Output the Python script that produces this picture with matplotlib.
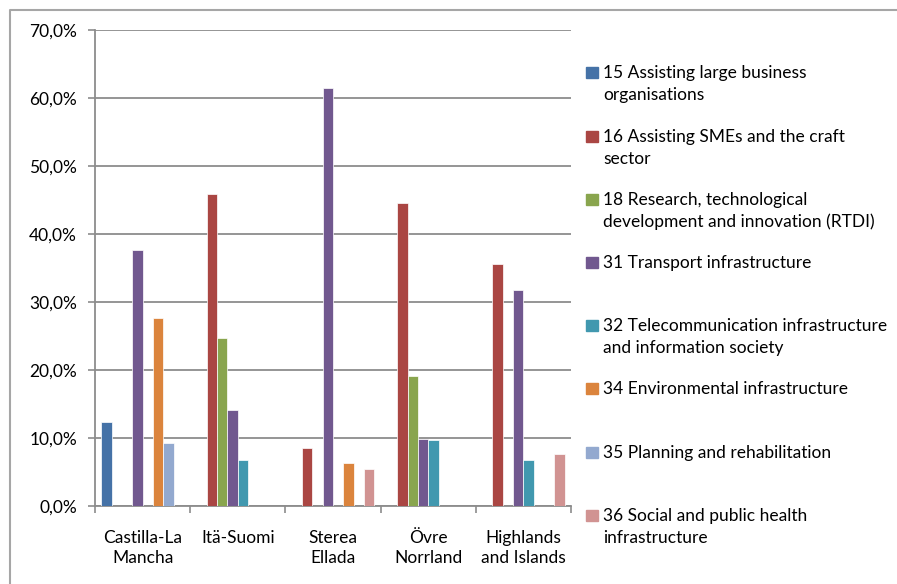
"""
Grouped bar chart: share of structural fund expenditure by priority theme
"""
import matplotlib.pyplot as plt
from matplotlib.lines import Line2D
from matplotlib.patches import Rectangle
from matplotlib.ticker import FuncFormatter
import numpy as np

plt.rcParams['font.family'] = ['Lato', 'DejaVu Sans']

regions = ['Castilla-La\nMancha', 'Itä-Suomi', 'Sterea\nEllada', 'Övre\nNorrland', 'Highlands\nand Islands']

themes = [
    '15 Assisting large business\norganisations',
    '16 Assisting SMEs and the craft\nsector',
    '18 Research, technological\ndevelopment and innovation (RTDI)',
    '31 Transport infrastructure',
    '32 Telecommunication infrastructure\nand information society',
    '34 Environmental infrastructure',
    '35 Planning and rehabilitation',
    '36 Social and public health\ninfrastructure',
]

# values in percent, one list per theme (order of regions)
v15 = [12.3, 0.0, 0.0, 0.0, 0.0]
v16 = [0.0, 45.9, 8.6, 44.6, 35.6]
v18 = [0.0, 24.7, 0.0, 19.1, 0.0]
v31 = [37.7, 14.1, 61.4, 9.9, 31.8]
v32 = [0.0, 6.7, 0.0, 9.7, 6.7]
v34 = [27.7, 0.0, 6.3, 0.0, 0.0]
v35 = [9.2, 0.0, 0.0, 0.0, 0.0]
v36 = [0.0, 0.0, 5.5, 0.0, 7.6]
series = [v15, v16, v18, v31, v32, v34, v35, v36]

colors = ['#4572A7', '#AA4643', '#89A54E', '#71588F',
          '#4198AF', '#DB843D', '#93A9CF', '#D19392']

W, H = 897, 584
fig = plt.figure(figsize=(W / 100, H / 100), dpi=100)
ax = fig.add_axes([95 / W, (H - 506) / H, 476 / W, 476 / H])

x = np.arange(len(regions))
bw = 0.866 / len(series)
for k, (vals, c) in enumerate(zip(series, colors)):
    ax.bar(x - 0.433 + bw * (k + 0.5), vals, width=bw, color=c,
           edgecolor='white', linewidth=0.5, zorder=3)

grid_c = '#8C8C8C'
fs = 12.5
ax.set_ylim(0, 70)
ax.set_xlim(-0.5, len(regions) - 0.5)
ax.set_yticks(np.arange(0, 71, 10))
ax.yaxis.set_major_formatter(FuncFormatter(lambda v, p: f'{v:.1f}%'.replace('.', ',')))
ax.yaxis.grid(True, color=grid_c, linewidth=1.3, zorder=0)
ax.tick_params(axis='y', length=5, color=grid_c, width=1.2, labelsize=fs,
               pad=8, labelcolor='black')

ax.set_xticks(x)
ax.set_xticklabels(regions, fontsize=fs, linespacing=1.3)
ax.set_xticks(np.arange(-0.5, len(regions), 1.0), minor=True)
ax.tick_params(axis='x', which='major', length=0, pad=17)
ax.tick_params(axis='x', which='minor', length=5, color=grid_c, width=1.2)

for s in ['top', 'right']:
    ax.spines[s].set_visible(False)
for s in ['left', 'bottom']:
    ax.spines[s].set_color(grid_c)
    ax.spines[s].set_linewidth(1.3)

# legend drawn by hand on the right
entry_y = [73, 137, 200, 263, 326, 389, 453, 516]
for lab, c, y0 in zip(themes, colors, entry_y):
    fig.patches.append(Rectangle((586 / W, 1 - (y0 + 5) / H), 12 / W, 11 / H,
                                 transform=fig.transFigure, color=c))
    for j, line in enumerate(lab.split('\n')):
        fig.text(603 / W, 1 - (y0 + 22 * j) / H, line, fontsize=fs,
                 ha='left', va='center')

# outer chart border (top and left visible)
border_c = '#A6A6A6'
fig.lines.append(Line2D([10 / W, 10 / W, 1], [0, 1 - 10 / H, 1 - 10 / H],
                        transform=fig.transFigure, color=border_c, linewidth=1.5))

fig.savefig('out.png', dpi=100, facecolor='white')
